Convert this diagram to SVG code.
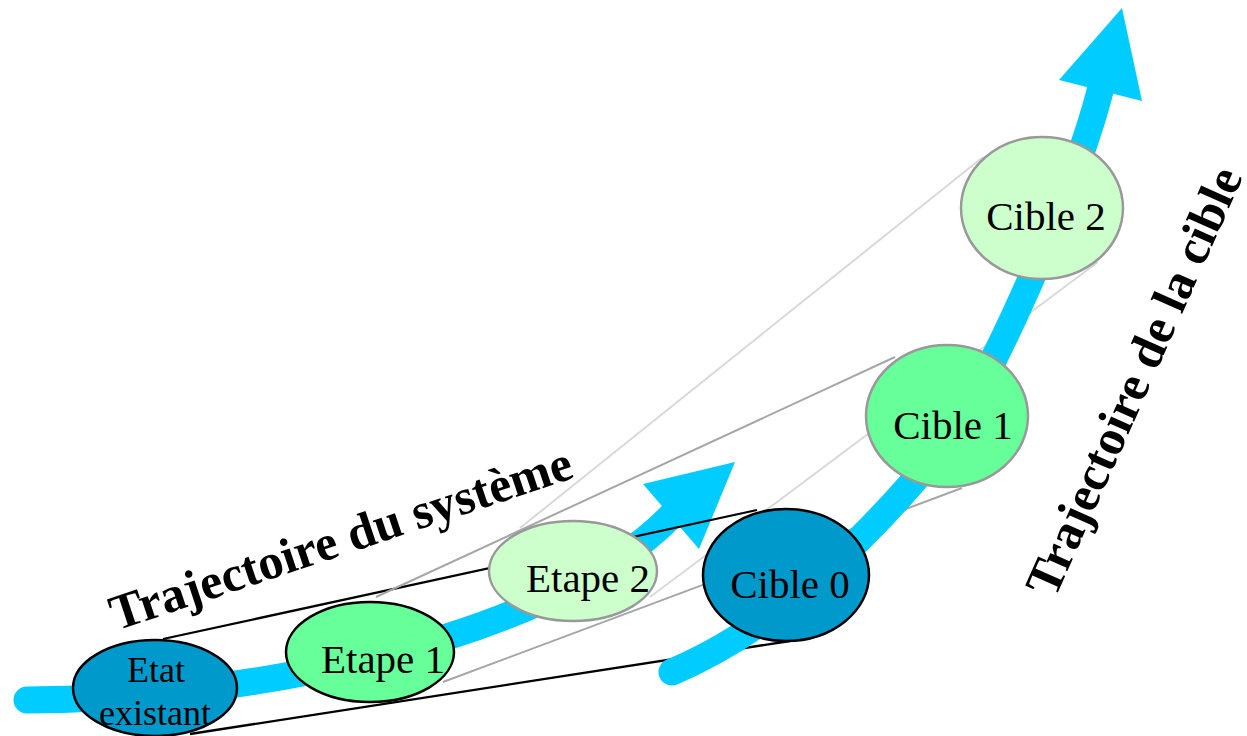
<svg xmlns="http://www.w3.org/2000/svg" width="1247" height="736" viewBox="0 0 1247 736">
<style>
.traj{fill:none;stroke:#00CCFF;stroke-width:27;stroke-linecap:round}
.head{fill:#00CCFF;stroke:none}
.ln{fill:none;stroke-width:2}
.blk{stroke:#000;stroke-width:2.3}
.gry{stroke:#A6A6A6}
.lgt{stroke:#D9D9D9}
.dark{fill:#0099CC;stroke:#000;stroke-width:2.5}
.mid{fill:#66FF99;stroke-width:2.5}
.pale{fill:#CCFFCC;stroke:#999;stroke-width:2.5}
.lbl{font-family:"Liberation Serif","Times New Roman",serif;font-size:41px;fill:#000;text-anchor:middle}
.big{font-family:"Liberation Serif","Times New Roman",serif;font-size:50px;font-weight:bold;fill:#000;text-anchor:middle}
</style>
<rect width="1247" height="736" fill="#fff"/>
<g id="system-trajectory">
<path class="traj" d="M 27 700 C 230 700, 545 645, 671 516"/>
<polygon class="head" points="643,484 735,462 699,549"/>
</g>
<g id="connectors">
<line class="ln blk" x1="163" y1="639" x2="757" y2="510"/>
<line class="ln blk" x1="190" y1="734" x2="790" y2="641"/>
<line class="ln gry" x1="376" y1="597" x2="895" y2="357"/>
<line class="ln gry" x1="443" y1="682" x2="962" y2="488"/>
<line class="ln lgt" x1="520" y1="528" x2="983" y2="157"/>
<line class="ln lgt" x1="650" y1="597" x2="1098" y2="262"/>
</g>
<g id="target-trajectory">
<path class="traj" d="M 672 672 C 760 635, 850 560, 940 450 C 985 395, 1075 190, 1100 91"/>
<polygon class="head" points="1059,80 1122,8 1142,101"/>
</g>
<g id="etat-existant">
<ellipse class="dark" cx="155" cy="688" rx="82" ry="48"/>
<text class="lbl" style="font-size:36px" x="156" y="682">Etat</text>
<text class="lbl" style="font-size:36px" x="155" y="725">existant</text>
</g>
<g id="etape-1">
<ellipse class="mid" stroke="#000" cx="370" cy="652" rx="84" ry="50"/>
<text class="lbl" x="383" y="673">Etape 1</text>
</g>
<g id="etape-2">
<ellipse class="pale" cx="573" cy="571" rx="84" ry="50"/>
<text class="lbl" x="588" y="592">Etape 2</text>
</g>
<g id="cible-0">
<ellipse class="dark" cx="786" cy="575" rx="83" ry="66"/>
<text class="lbl" x="790" y="598">Cible 0</text>
</g>
<g id="cible-1">
<ellipse class="mid" stroke="#999" cx="947" cy="416" rx="81" ry="71"/>
<text class="lbl" x="953" y="439">Cible 1</text>
</g>
<g id="cible-2">
<ellipse class="pale" cx="1042" cy="208" rx="81" ry="71"/>
<text class="lbl" x="1046" y="230">Cible 2</text>
</g>
<g id="labels">
<text class="big" transform="translate(346 554) rotate(-18.5)">Trajectoire du système</text>
<text class="big" transform="translate(1149 388) rotate(-66)">Trajectoire de la cible</text>
</g>
</svg>
